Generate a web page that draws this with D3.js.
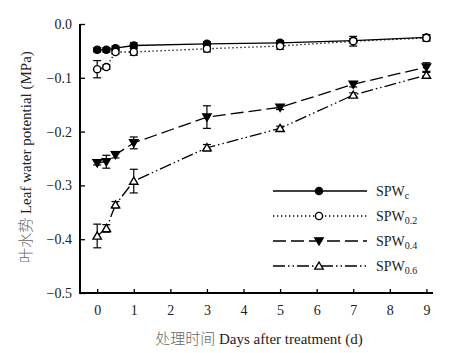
<!DOCTYPE html>
<html>
<head>
<meta charset="utf-8">
<script src="https://d3js.org/d3.v7.min.js"></script>
<style>
  body { margin: 0; background: #fff; }
  text, tspan { font-family: "Liberation Serif", "Times New Roman", serif; fill: #222; }
  tspan.cjk { font-family: "Noto Sans CJK SC", sans-serif; font-weight: 300; fill: #666; }
</style>
</head>
<body>
<svg id="chart" width="455" height="353"></svg>
<script>
  // days after treatment
  const days = [0, 0.25, 0.5, 1, 3, 5, 7, 9];
  // series values (MPa) and error bars
  const spwC = [-0.048, -0.048, -0.045, -0.040, -0.037, -0.035, -0.031, -0.025];
  const spwCErr = [0.004, 0.004, 0.004, 0.005, 0.004, 0.004, 0.004, 0.005];
  const spw02 = [-0.084, -0.080, -0.052, -0.052, -0.046, -0.041, -0.032, -0.026];
  const spw02Err = [0.016, 0.004, 0.004, 0.006, 0.006, 0.006, 0.009, 0.006];
  const spw04 = [-0.258, -0.256, -0.243, -0.221, -0.173, -0.155, -0.112, -0.080];
  const spw04Err = [0.004, 0.012, 0.006, 0.011, 0.021, 0.004, 0.005, 0.008];
  const spw06 = [-0.394, -0.380, -0.336, -0.292, -0.230, -0.194, -0.132, -0.095];
  const spw06Err = [0.022, 0.007, 0.006, 0.022, 0.006, 0.004, 0.004, 0.005];

  const xTicks = [0, 1, 2, 3, 4, 5, 6, 7, 8, 9];
  const yTicks = [0, -0.1, -0.2, -0.3, -0.4, -0.5];

  const seriesNames = ["c", "0.2", "0.4", "0.6"];

  const svg = d3.select("#chart");

  const x = d3.scaleLinear().domain([-0.47, 9.18]).range([80, 433]);
  const y = d3.scaleLinear().domain([-0.5, 0]).range([293, 24]);

  // axes
  const xAxis = svg.append("g").attr("transform", "translate(0,293)")
    .call(d3.axisBottom(x).tickValues(xTicks).tickSizeInner(-4).tickSizeOuter(0).tickPadding(12)
      .tickFormat(d3.format("d")));
  const yAxis = svg.append("g").attr("transform", "translate(80,0)")
    .call(d3.axisLeft(y).tickValues(yTicks).tickSizeInner(-5).tickSizeOuter(0).tickPadding(8)
      .tickFormat(d3.format(".1f")));
  [xAxis, yAxis].forEach(a => {
    a.attr("font-family", "Liberation Serif");
    a.select(".domain").attr("stroke", "#000").attr("stroke-width", 2);
    a.selectAll(".tick line").attr("stroke", "#000").attr("stroke-width", 1.3);
    a.selectAll(".tick text").style("font-size", "14px").attr("fill", "#222");
  });
  xAxis.select(".domain").attr("d", "M79,0H433");
  yAxis.select(".domain").attr("d", "M0,24V294");

  // axis labels
  const xl = svg.append("text").attr("x", 259).attr("y", 344).attr("text-anchor", "middle")
    .style("font-size", "15px");
  xl.append("tspan").attr("class", "cjk").text("处理时间");
  xl.append("tspan").text(" Days after treatment (d)");
  const yl = svg.append("text").attr("transform", "translate(31,157) rotate(-90)").attr("text-anchor", "middle")
    .style("font-size", "15px");
  yl.append("tspan").attr("class", "cjk").text("叶水势");
  yl.append("tspan").text(" Leaf water potential (MPa)");

  const series = [
    { vals: spwC, err: spwCErr, dash: null, marker: "circle", fill: "#000" },
    { vals: spw02, err: spw02Err, dash: "1.3,2.7", marker: "circle", fill: "#fff" },
    { vals: spw04, err: spw04Err, dash: "13,5", marker: "down", fill: "#000" },
    { vals: spw06, err: spw06Err, dash: "12,3,1.5,3,1.5,3", marker: "up", fill: "#fff" }
  ];

  const line = d3.line().x(d => x(d[0])).y(d => y(d[1]));

  function drawMarker(g, type, cx, cy, fill) {
    if (type === "circle") {
      g.append("circle").attr("cx", cx).attr("cy", cy).attr("r", 3.6)
        .attr("fill", fill).attr("stroke", "#000").attr("stroke-width", 1.4);
    } else {
      const s = 4.2;
      const pts = type === "down"
        ? [[cx - s, cy - s * 0.75], [cx + s, cy - s * 0.75], [cx, cy + s * 0.95]]
        : [[cx - s, cy + s * 0.75], [cx + s, cy + s * 0.75], [cx, cy - s * 0.95]];
      g.append("path").attr("d", "M" + pts.join("L") + "Z")
        .attr("fill", fill).attr("stroke", "#000").attr("stroke-width", 1.4);
    }
  }

  const plot = svg.append("g");
  // lines first
  series.forEach(s => {
    plot.append("path").datum(days.map((d, i) => [d, s.vals[i]]))
      .attr("d", line).attr("fill", "none").attr("stroke", "#000")
      .attr("stroke-width", 1.3).attr("stroke-dasharray", s.dash);
  });
  // error bars and markers
  series.forEach(s => {
    const g = plot.append("g");
    days.forEach((d, i) => {
      const cx = x(d), y1 = y(s.vals[i] + s.err[i]), y2 = y(s.vals[i] - s.err[i]);
      g.append("line").attr("x1", cx).attr("x2", cx).attr("y1", y1).attr("y2", y2)
        .attr("stroke", "#000").attr("stroke-width", 1.2);
      [y1, y2].forEach(yy => g.append("line").attr("x1", cx - 4).attr("x2", cx + 4)
        .attr("y1", yy).attr("y2", yy).attr("stroke", "#000").attr("stroke-width", 1.2));
    });
    days.forEach((d, i) => drawMarker(g, s.marker, x(d), y(s.vals[i]), s.fill));
  });

  // legend
  const legend = svg.append("g");
  series.forEach((s, i) => {
    const ly = 191 + i * 25;
    legend.append("line").attr("x1", 273).attr("x2", 367).attr("y1", ly).attr("y2", ly)
      .attr("stroke", "#000").attr("stroke-width", 1.3).attr("stroke-dasharray", s.dash);
    drawMarker(legend, s.marker, 319, ly, s.fill);
    const t = legend.append("text").attr("x", 376).attr("y", ly + 5).style("font-size", "14px");
    t.append("tspan").text("SPW");
    t.append("tspan").attr("dy", 3).style("font-size", "10px").text(seriesNames[i]);
  });
</script>
</body>
</html>
